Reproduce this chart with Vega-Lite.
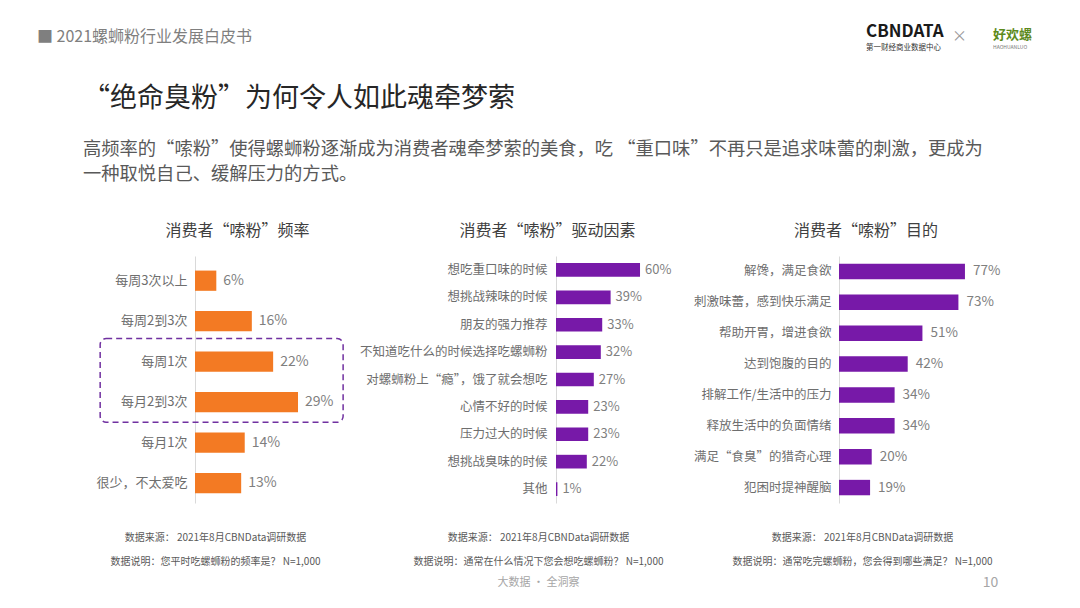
{
  "$schema": "https://vega.github.io/schema/vega-lite/v6.json",
  "background": "white",
  "padding": {"left": 37, "top": 23, "right": 5, "bottom": 5},
  "config": {
    "font": "Noto Sans CJK SC",
    "view": {"stroke": null},
    "axis": {"grid": false},
    "title": {"fontWeight": "normal"}
  },
  "bounds": "flush",
  "spacing": 197,
  "vconcat": [
    {
      "bounds": "flush",
      "spacing": 0,
      "hconcat": [
        {
          "width": 671, "height": 1,
          "data": {"values": [{}]},
          "mark": "text",
          "encoding": {"text": {"value": ""}},
          "title": {"text": "■  2021螺蛳粉行业发展白皮书", "anchor": "start", "frame": "group", "dx": -158, "offset": 9, "fontSize": 16, "color": "#7f7f7f"}
        },
        {
          "width": 86, "height": 1,
          "data": {"values": [{}]},
          "mark": "text",
          "encoding": {"text": {"value": ""}},
          "title": {"text": "CBNDATA", "subtitle": "第一财经商业数据中心", "anchor": "start", "frame": "group", "offset": 1, "fontSize": 17, "fontWeight": "bold", "color": "#1a1a1a", "subtitleFontSize": 7.5, "subtitleColor": "#333333", "subtitlePadding": 3}
        },
        {
          "width": 23, "height": 1,
          "data": {"values": [{}]},
          "mark": "text",
          "encoding": {"text": {"value": ""}},
          "title": {"text": "×", "anchor": "start", "frame": "group", "offset": 10, "fontSize": 15, "color": "#999999"}
        },
        {
          "width": 70, "height": 1,
          "data": {"values": [{}]},
          "mark": "text",
          "encoding": {"text": {"value": ""}},
          "title": {"text": "好欢螺", "subtitle": "HAOHUANLUO", "anchor": "start", "frame": "group", "dx": 18, "offset": 4, "fontSize": 13, "fontWeight": "bold", "color": "#5d8a1c", "subtitleFontSize": 5, "subtitleColor": "#777777", "subtitlePadding": 3}
        }
      ]
    },
    {
      "bounds": "flush",
      "spacing": 120,
      "title": {
        "text": "“绝命臭粉”为何令人如此魂牵梦萦",
        "subtitle": ["高频率的“嗦粉”使得螺蛳粉逐渐成为消费者魂牵梦萦的美食，吃 “重口味”不再只是追求味蕾的刺激，更成为", "一种取悦自己、缓解压力的方式。"],
        "anchor": "start",
        "frame": "group",
        "dx": -112,
        "offset": 39,
        "fontSize": 27,
        "color": "#262626",
        "subtitleFontSize": 18.3,
        "subtitleColor": "#595959",
        "subtitlePadding": 28,
        "subtitleLineHeight": 25
      },
      "hconcat": [
        {
          "width": 241, "height": 247,
          "title": {"text": "消费者“嗦粉”频率", "fontSize": 16, "color": "#404040", "anchor": "middle", "frame": "group", "dx": -78, "offset": 17},
          "data": {"values": [
            {"c": "每周3次以上", "v": 0.06},
            {"c": "每周2到3次", "v": 0.16},
            {"c": "每周1次", "v": 0.22},
            {"c": "每月2到3次", "v": 0.29},
            {"c": "每月1次", "v": 0.14},
            {"c": "很少，不太爱吃", "v": 0.13}
          ]},
          "encoding": {
            "x": {"field": "v", "type": "quantitative", "scale": {"domain": [0, 0.6785], "nice": false},
              "axis": {"labels": false, "ticks": false, "domain": false, "title": ["数据来源： 2021年8月CBNData调研数据", "数据说明：您平时吃螺蛳粉的频率是？ N=1,000"], "titleFontSize": 10, "titleColor": "#595959", "titleFontWeight": "normal", "titleX": 20, "titleY": 29, "titleAlign": "center", "titleBaseline": "top", "titleLineHeight": 24, "titleAngle": 0}},
            "y": {"field": "c", "type": "nominal", "sort": null,
              "scale": {"domain": ["每周3次以上", "每周2到3次", "每周1次", "每月2到3次", "每月1次", "很少，不太爱吃"], "paddingInner": 0.5, "paddingOuter": 0.3, "align": 0.6},
              "axis": {"title": null, "ticks": false, "domain": true, "domainColor": "#d9d9d9", "labelFontSize": 13, "labelColor": "#6e6e6e", "labelPadding": 8, "labelLimit": 300}}
          },
          "layer": [
            {"mark": {"type": "bar", "color": "#F37A23"}},
            {"mark": {"type": "text", "align": "left", "baseline": "middle", "dx": 7, "fontSize": 14, "color": "#7f7f7f"},
             "encoding": {"text": {"field": "v", "type": "quantitative", "format": ".0%"}}},
            {"transform": [{"filter": "datum.c === '每周1次'"}],
             "mark": {"type": "rect", "fill": "transparent", "stroke": "#7030A0", "strokeWidth": 1.5, "strokeDash": [6, 4], "cornerRadius": 6, "yOffset": -13, "y2Offset": 10},
             "encoding": {
               "x": {"datum": -0.267, "type": "quantitative"},
               "x2": {"datum": 0.417},
               "y": {"datum": "每周1次", "type": "nominal", "bandPosition": 0},
               "y2": {"datum": "每月2到3次", "bandPosition": 1}
             }}
          ]
        },
        {
          "width": 163, "height": 247,
          "title": {"text": "消费者“嗦粉”驱动因素", "fontSize": 16, "color": "#404040", "anchor": "middle", "frame": "group", "dx": -90, "offset": 17},
          "data": {"values": [
            {"c": "想吃重口味的时候", "v": 0.60},
            {"c": "想挑战辣味的时候", "v": 0.39},
            {"c": "朋友的强力推荐", "v": 0.33},
            {"c": "不知道吃什么的时候选择吃螺蛳粉", "v": 0.32},
            {"c": "对螺蛳粉上“瘾”，饿了就会想吃", "v": 0.27},
            {"c": "心情不好的时候", "v": 0.23},
            {"c": "压力过大的时候", "v": 0.23},
            {"c": "想挑战臭味的时候", "v": 0.22},
            {"c": "其他", "v": 0.01}
          ]},
          "encoding": {
            "x": {"field": "v", "type": "quantitative", "scale": {"domain": [0, 1.164], "nice": false},
              "axis": {"labels": false, "ticks": false, "domain": false, "title": ["数据来源： 2021年8月CBNData调研数据", "数据说明：通常在什么情况下您会想吃螺蛳粉？ N=1,000"], "titleFontSize": 10, "titleColor": "#595959", "titleFontWeight": "normal", "titleX": -18, "titleY": 29, "titleAlign": "center", "titleBaseline": "top", "titleLineHeight": 24, "titleAngle": 0}},
            "y": {"field": "c", "type": "nominal", "sort": null,
              "scale": {"paddingInner": 0.5, "paddingOuter": 0.26},
              "axis": {"title": null, "ticks": false, "domain": true, "domainColor": "#d9d9d9", "labelFontSize": 12.5, "labelColor": "#6e6e6e", "labelPadding": 9, "labelLimit": 300}}
          },
          "layer": [
            {"mark": {"type": "bar", "color": "#7719A8"}},
            {"mark": {"type": "text", "align": "left", "baseline": "middle", "dx": 5, "fontSize": 13, "color": "#7f7f7f"},
             "encoding": {
               "text": {"field": "v", "type": "quantitative", "format": ".0%"},
               "y": {"field": "c", "type": "nominal", "sort": null,
                 "axis": {"orient": "right", "labels": false, "ticks": false, "domain": false, "title": "大数据 · 全洞察", "titleAngle": 0, "titleX": -181, "titleY": 326, "titleAlign": "center", "titleBaseline": "middle", "titleFontSize": 11, "titleColor": "#a6a6a6", "titleFontWeight": "normal"}}
             }}
          ],
          "resolve": {"axis": {"y": "independent"}}
        },
        {
          "width": 150, "height": 247,
          "title": {"text": "消费者“嗦粉”目的", "fontSize": 16, "color": "#404040", "anchor": "middle", "frame": "group", "dx": -48, "offset": 17},
          "data": {"values": [
            {"c": "解馋，满足食欲", "v": 0.77},
            {"c": "刺激味蕾，感到快乐满足", "v": 0.73},
            {"c": "帮助开胃，增进食欲", "v": 0.51},
            {"c": "达到饱腹的目的", "v": 0.42},
            {"c": "排解工作/生活中的压力", "v": 0.34},
            {"c": "释放生活中的负面情绪", "v": 0.34},
            {"c": "满足“食臭”的猎奇心理", "v": 0.20},
            {"c": "犯困时提神醒脑", "v": 0.19}
          ]},
          "encoding": {
            "x": {"field": "v", "type": "quantitative", "scale": {"domain": [0, 0.917], "nice": false},
              "axis": {"labels": false, "ticks": false, "domain": false, "title": ["数据来源： 2021年8月CBNData调研数据", "数据说明：通常吃完螺蛳粉，您会得到哪些满足？ N=1,000"], "titleFontSize": 10, "titleColor": "#595959", "titleFontWeight": "normal", "titleX": 23, "titleY": 29, "titleAlign": "center", "titleBaseline": "top", "titleLineHeight": 24, "titleAngle": 0}},
            "y": {"field": "c", "type": "nominal", "sort": null,
              "scale": {"paddingInner": 0.5, "paddingOuter": 0.25},
              "axis": {"title": null, "ticks": false, "domain": true, "domainColor": "#d9d9d9", "labelFontSize": 12.5, "labelColor": "#6e6e6e", "labelPadding": 8, "labelLimit": 300}}
          },
          "layer": [
            {"mark": {"type": "bar", "color": "#7719A8"}},
            {"mark": {"type": "text", "align": "left", "baseline": "middle", "dx": 8, "fontSize": 13.5, "color": "#7f7f7f"},
             "encoding": {
               "text": {"field": "v", "type": "quantitative", "format": ".0%"},
               "y": {"field": "c", "type": "nominal", "sort": null,
                 "axis": {"orient": "right", "labels": false, "ticks": false, "domain": false, "title": "10", "titleAngle": 0, "titleX": 1, "titleY": 326, "titleAlign": "center", "titleBaseline": "middle", "titleFontSize": 14, "titleColor": "#a6a6a6", "titleFontWeight": "normal"}}
             }}
          ],
          "resolve": {"axis": {"y": "independent"}}
        }
      ]
    }
  ]
}
